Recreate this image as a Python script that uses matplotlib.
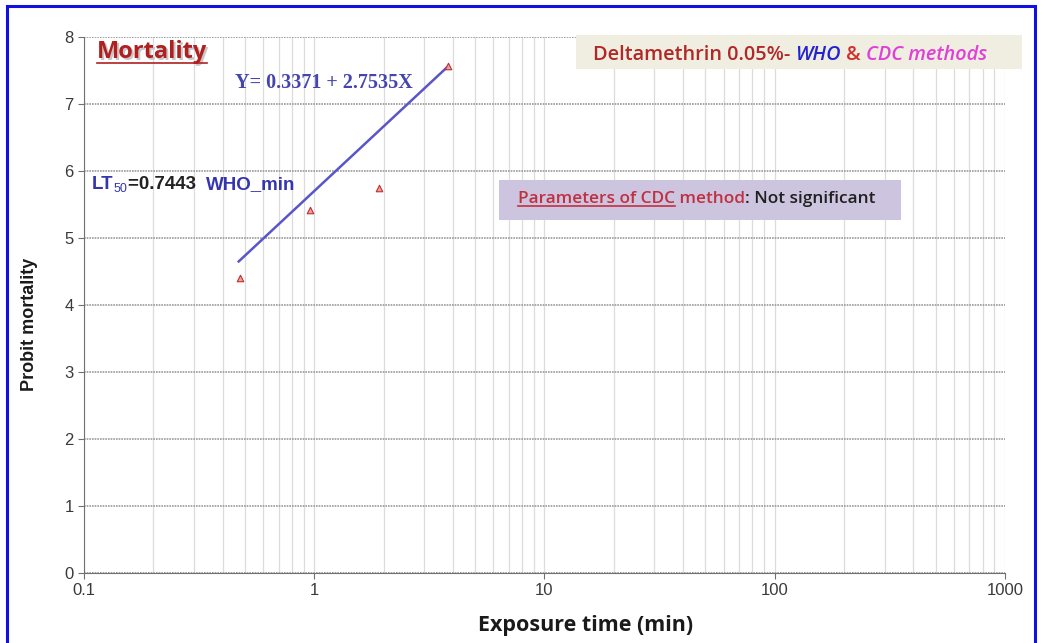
import matplotlib
matplotlib.use('Agg')
from matplotlib import pyplot as plt
from matplotlib.patches import Rectangle
from matplotlib.ticker import LogLocator, FixedLocator, NullFormatter

# observed points (exposure time, probit mortality)
times = [0.475, 0.96, 1.91, 3.81]
probits = [4.41, 5.42, 5.74, 7.57]

# fitted line end points
fit_x = [0.47, 3.78]
fit_y = [4.65, 7.55]

x_ticks = [0.1, 1, 10, 100, 1000]
x_tick_labels = ['0.1', '1', '10', '100', '1000']
y_ticks = [0, 1, 2, 3, 4, 5, 6, 7, 8]

fig = plt.figure(figsize=(10.42, 6.43), dpi=100)
ax = fig.add_axes([0.0806, 0.1089, 0.8839, 0.8336])

ax.plot(fit_x, fit_y, color='#5a55c8', linewidth=1.8, zorder=3)
ax.scatter(times, probits, marker='^', s=22, facecolor='#e8a0a0',
           edgecolor='#c03030', linewidth=0.8, zorder=4)

ax.set_xscale('log')
ax.set_xlim(0.1, 1000)
ax.set_ylim(0, 8)
ax.xaxis.set_major_locator(FixedLocator(x_ticks))
ax.set_xticklabels(x_tick_labels)
ax.xaxis.set_minor_locator(LogLocator(base=10, subs=range(2, 10)))
ax.xaxis.set_minor_formatter(NullFormatter())
ax.set_yticks(y_ticks)

# grid
ax.grid(axis='x', which='both', color='#dcdcdc', linewidth=0.9, linestyle='-')
ax.grid(axis='y', which='major', color='#9a9a9a', linewidth=1.2, linestyle=(0, (1, 0.6)))
ax.set_axisbelow(True)

for s in ['top', 'right']:
    ax.spines[s].set_visible(False)
ax.spines['left'].set_color('#707070')
ax.spines['bottom'].set_color('#707070')
ax.tick_params(axis='both', which='major', labelsize=12, length=4,
               color='#707070', labelcolor='#3a3a3a')
ax.tick_params(axis='x', which='minor', length=0)
for lab in ax.get_xticklabels() + ax.get_yticklabels():
    lab.set_family('Liberation Sans')

ax.set_xlabel('Exposure time (min)', fontsize=15.5, fontweight='bold',
              family='Open Sans', color='#1a1a1a')
ax.xaxis.set_label_coords(0.545, -0.078)
ax.set_ylabel('Probit mortality', fontsize=13, fontweight='bold',
              family='Liberation Sans', color='#1a1a1a')
ax.yaxis.set_label_coords(-0.05, 0.463)

fig.canvas.draw()
renderer = fig.canvas.get_renderer()


def put_pieces(x, y, pieces, underline=()):
    # place coloured text pieces one after another (figure pixels)
    cur = x
    for i, (txt, kw) in enumerate(pieces):
        kw = dict(kw)
        dy = kw.pop('dy', 0)
        t = fig.text(cur / fig.bbox.width, 1 - (y + dy) / fig.bbox.height, txt,
                     va='baseline', ha='left', zorder=6, **kw)
        bb = t.get_window_extent(renderer)
        if i in underline:
            uy = bb.y0 + 1
            fig.add_artist(plt.Line2D([bb.x0 / fig.bbox.width, bb.x1 / fig.bbox.width],
                                      [uy / fig.bbox.height, uy / fig.bbox.height],
                                      color=kw.get('color', 'k'), linewidth=1.2, zorder=6))
        cur = bb.x1
    return cur


# boxes
fig.add_artist(Rectangle((576 / 1042, 1 - 69 / 643), 446 / 1042, 34 / 643,
                         facecolor='#efeee0', edgecolor='none', zorder=5))
fig.add_artist(Rectangle((499 / 1042, 1 - 220 / 643), 402 / 1042, 40 / 643,
                         facecolor='#cdc5df', edgecolor='none', zorder=5))

cal = dict(family='Open Sans', fontsize=14.3, fontweight='semibold')
put_pieces(593, 60, [
    ('Deltamethrin 0.05%- ', dict(color='#b02828', **cal)),
    ('WHO', dict(color='#2323d0', style='italic', **cal)),
    (' & ', dict(color='#d03030', **cal)),
    ('CDC methods', dict(color='#e040d8', style='italic', **cal)),
])

cal2 = dict(family='Open Sans', fontsize=12.4, fontweight='semibold')
put_pieces(518, 203, [
    ('Parameters of CDC', dict(color='#c03040', **cal2)),
    (' method', dict(color='#c03040', **cal2)),
    (': Not significant', dict(color='#202020', **cal2)),
], underline=(0,))

# Mortality title with soft shadow
fig.text(99 / 1042, 1 - 60 / 643, 'Mortality', fontsize=17, fontweight='bold',
         family='Open Sans', color='#c8c8c8', zorder=5)
put_pieces(97, 58, [('Mortality', dict(color='#b02020', fontsize=17,
                                       fontweight='bold', family='Open Sans'))],
           underline=(0,))

# equation
fig.text(235 / 1042, 1 - 88 / 643, 'Y= 0.3371 + 2.7535X', fontsize=14.5,
         fontweight='bold', family='Liberation Serif', color='#4545b0', zorder=6)

# LT50 label
arial = dict(family='Liberation Sans', fontsize=13.5, fontweight='bold')
put_pieces(92, 189, [
    ('LT', dict(color='#3535b0', **arial)),
    ('50', dict(color='#3535b0', family='Liberation Sans', fontsize=9, dy=3)),
    ('=0.7443  ', dict(color='#222222', **arial)),
    ('WHO_min', dict(color='#3535b0', **arial)),
])

# blue frame
fig.add_artist(Rectangle((7 / 1042, -0.02), 1028 / 1042, 1.02 - 6 / 643,
                         facecolor='none', edgecolor='#1010e0', linewidth=2.2,
                         zorder=10))

fig.savefig('out.png', dpi=100)
